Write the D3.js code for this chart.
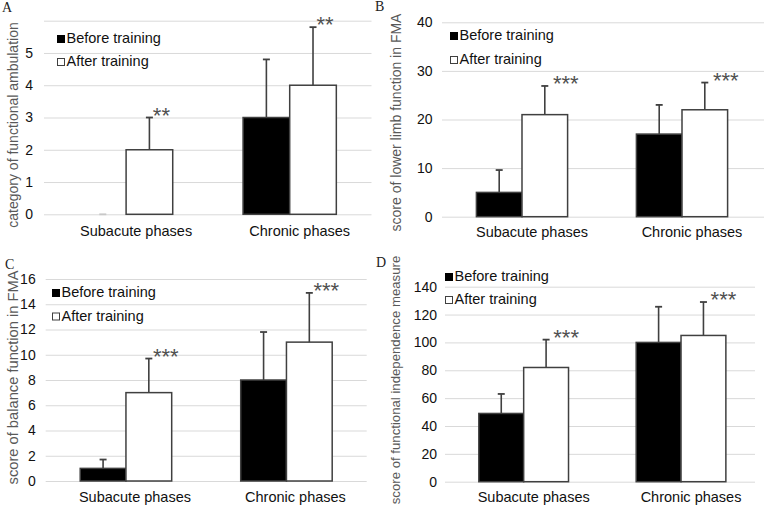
<!DOCTYPE html>
<html>
<head>
<meta charset="utf-8">
<script src="https://cdn.jsdelivr.net/npm/d3@7/dist/d3.min.js"></script>
<style>
  html, body { margin: 0; padding: 0; background: #fff; }
  svg { display: block; font-family: "Liberation Sans", Arial, sans-serif; }
</style>
</head>
<body>
<svg id="chart" width="764" height="509"></svg>
<script>
// ---------- DATA ----------
const categories = ["Subacute phases", "Chronic phases"];
const seriesNames = ["Before training", "After training"];

// A: category of functional ambulation
const ambBefore = [0, 3];
const ambBeforeSD = [0, 1.8];
const ambAfter = [2, 4];
const ambAfterSD = [1, 1.8];
const ambTicks = [0, 1, 2, 3, 4, 5];
const ambGrid = [0, 1, 2, 3, 4, 5, 6];
const ambStars = ["**", "**"];

// B: score of lower limb function in FMA
const llBefore = [5, 17];
const llBeforeSD = [4.6, 6];
const llAfter = [21, 22];
const llAfterSD = [5.9, 5.6];
const llTicks = [0, 10, 20, 30, 40];
const llStars = ["***", "***"];

// C: score of balance function in FMA
const balBefore = [1, 8];
const balBeforeSD = [0.7, 3.8];
const balAfter = [7, 11];
const balAfterSD = [2.7, 3.9];
const balTicks = [0, 2, 4, 6, 8, 10, 12, 14, 16];
const balStars = ["***", "***"];

// D: score of functional independence measure
const fimBefore = [49, 100];
const fimBeforeSD = [14, 25.6];
const fimAfter = [82, 105];
const fimAfterSD = [20, 24];
const fimTicks = [0, 20, 40, 60, 80, 100, 120, 140];
const fimStars = ["***", "***"];

// ---------- PANELS (layout) ----------
const panels = [
  { label: "A", title: "category of functional ambulation", titleFs: 14,
    before: ambBefore, beforeSD: ambBeforeSD, after: ambAfter, afterSD: ambAfterSD,
    ticks: ambTicks, grid: ambGrid, stars: ambStars,
    xr: [44.3, 371.5], gridR: [44, 371.5], yr: [214.3, 20.7],
    tickPad: 11, titleX: 18, titleY: 125, legX: 57, legY: [43, 66],
    labXY: [2, 12], catY: 236, catDx: 10, starDx: 12 },
  { label: "B", title: "score of lower limb function in FMA", titleFs: 14,
    before: llBefore, beforeSD: llBeforeSD, after: llAfter, afterSD: llAfterSD,
    ticks: llTicks, grid: llTicks, stars: llStars,
    xr: [442, 762], gridR: [442, 764], yr: [216.7, 22.3],
    tickPad: 9.5, titleX: 401, titleY: 122.5, legX: 450, legY: [40, 64],
    labXY: [375, 11], catY: 237, catDx: 10, starDx: 21 },
  { label: "C", title: "score of balance function in FMA", titleFs: 14.7,
    before: balBefore, beforeSD: balBeforeSD, after: balAfter, afterSD: balAfterSD,
    ticks: balTicks, grid: balTicks, stars: balStars,
    xr: [45.7, 366.7], gridR: [45.7, 366.7], yr: [481, 279],
    tickPad: 10, titleX: 18, titleY: 377.5, legX: 52, legY: [297, 320.5],
    labXY: [5, 269], catY: 502, catDx: 9, starDx: 17 },
  { label: "D", title: "score of functional independence measure", titleFs: 13.2,
    before: fimBefore, beforeSD: fimBeforeSD, after: fimAfter, afterSD: fimAfterSD,
    ticks: fimTicks, grid: fimTicks, stars: fimStars,
    xr: [445, 759.7], gridR: [445, 755], yr: [481.7, 286.7],
    tickPad: 8, titleX: 400, titleY: 380, legX: 445, legY: [281, 304],
    labXY: [376, 267], catY: 502, catDx: 10, starDx: 20 }
];

const svg = d3.select("#chart");
const fills = ["#000000", "#ffffff"];
const lineCol = "#404040";

panels.forEach(p => {
  const g = svg.append("g");
  const domMax = d3.max(p.grid);
  const y = d3.scaleLinear().domain([0, domMax]).range(p.yr);
  const x0 = d3.scaleBand().domain(categories).range(p.xr).paddingInner(0.43).paddingOuter(0.215);
  const x1 = d3.scaleBand().domain(seriesNames).range([0, x0.bandwidth()]);
  const gw = p.gridR[1] - p.gridR[0];

  // gridlines
  const gridG = g.append("g").attr("transform", `translate(${p.gridR[0]},0)`)
    .call(d3.axisLeft(y).tickValues(p.grid).tickSize(-gw).tickFormat(""));
  gridG.select(".domain").remove();
  gridG.selectAll(".tick line").attr("stroke", "#d9d9d9").attr("stroke-width", 1);

  // tick labels
  const labG = g.append("g").attr("transform", `translate(${p.gridR[0]},0)`)
    .call(d3.axisLeft(y).tickValues(p.ticks).tickSize(0).tickPadding(p.tickPad).tickFormat(d3.format("d")));
  labG.select(".domain").remove();
  labG.selectAll("text").attr("font-size", 14).attr("fill", "#111")
    .attr("font-family", '"Liberation Sans", Arial, sans-serif');

  // bars
  const rows = categories.map((c, i) => ({
    cat: c, vals: [
      { s: seriesNames[0], v: p.before[i], sd: p.beforeSD[i] },
      { s: seriesNames[1], v: p.after[i], sd: p.afterSD[i] }
    ], star: p.stars[i]
  }));
  const grp = g.selectAll(".grp").data(rows).enter().append("g")
    .attr("transform", d => `translate(${x0(d.cat)},0)`);
  grp.selectAll("rect").data(d => d.vals).enter().append("rect")
    .filter(d => d.v > 0)
    .attr("x", d => x1(d.s))
    .attr("y", d => y(d.v))
    .attr("width", x1.bandwidth())
    .attr("height", d => y(0) - y(d.v))
    .attr("fill", d => fills[seriesNames.indexOf(d.s)])
    .attr("stroke", lineCol).attr("stroke-width", 1.5);

  // error bars
  const eb = grp.selectAll(".eb").data(d => d.vals).enter().append("g");
  eb.append("line")
    .attr("x1", d => x1(d.s) + x1.bandwidth() / 2)
    .attr("x2", d => x1(d.s) + x1.bandwidth() / 2)
    .attr("y1", d => y(d.v)).attr("y2", d => y(d.v + d.sd))
    .attr("stroke", lineCol).attr("stroke-width", 1.6);
  eb.append("line")
    .attr("x1", d => x1(d.s) + x1.bandwidth() / 2 - 3.5)
    .attr("x2", d => x1(d.s) + x1.bandwidth() / 2 + 3.5)
    .attr("y1", d => y(d.v + d.sd)).attr("y2", d => y(d.v + d.sd))
    .attr("stroke", d => d.v === 0 ? "#c8c8c8" : lineCol).attr("stroke-width", 1.8);

  // significance stars
  grp.append("text")
    .attr("x", d => x1(seriesNames[1]) + x1.bandwidth() / 2 + p.starDx)
    .attr("y", d => y(d.vals[1].v + d.vals[1].sd) + 5)
    .attr("text-anchor", "middle")
    .attr("font-size", 22).attr("fill", "#505050")
    .text(d => d.star);

  // category labels
  const catG = g.append("g").attr("transform", `translate(0,${p.catY})`)
    .call(d3.axisBottom(x0).tickSize(0));
  catG.select(".domain").remove();
  catG.selectAll("text").attr("y", 0).attr("dy", 0).attr("dx", p.catDx)
    .attr("font-size", 14.5).attr("fill", "#111")
    .attr("font-family", '"Liberation Sans", Arial, sans-serif');

  // y-axis title
  g.append("text")
    .attr("transform", `translate(${p.titleX},${p.titleY}) rotate(-90)`)
    .attr("text-anchor", "middle")
    .attr("font-size", p.titleFs).attr("fill", "#595959")
    .text(p.title);

  // legend
  seriesNames.forEach((s, i) => {
    const ly = p.legY[i];
    g.append("rect")
      .attr("x", p.legX + 0.5).attr("y", ly - 7.5)
      .attr("width", 7).attr("height", 7)
      .attr("fill", fills[i]).attr("stroke", i === 0 ? "#000" : lineCol).attr("stroke-width", 1);
    g.append("text")
      .attr("x", p.legX + 9.5).attr("y", ly)
      .attr("font-size", 14.5).attr("fill", "#111")
      .text(s);
  });

  // panel label
  g.append("text")
    .attr("x", p.labXY[0]).attr("y", p.labXY[1])
    .attr("font-family", '"Liberation Serif", "Times New Roman", serif')
    .attr("font-size", 14).attr("fill", "#222")
    .text(p.label);
});
</script>
</body>
</html>
